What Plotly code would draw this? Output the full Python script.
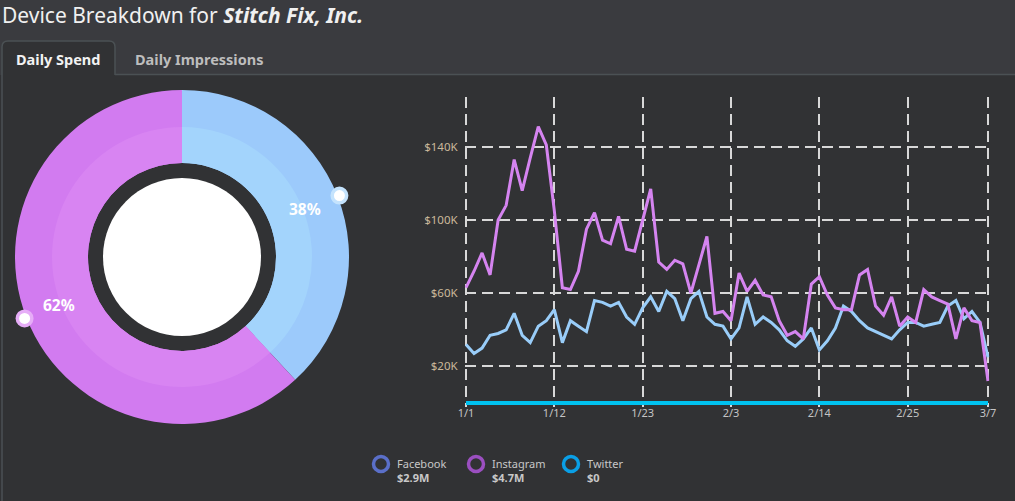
import numpy as np
import pandas as pd
import plotly.graph_objects as go

# ---------------- data ----------------
dates = pd.date_range("2018-01-01", "2018-03-07", freq="D")

# daily spend, thousands of USD
facebook = [32, 27, 30, 37, 38, 40, 49, 37, 33, 42, 45, 51,
            33, 45, 42, 39, 56, 55, 53, 55, 47, 43, 52, 58,
            50, 61, 57, 45, 57, 61, 47, 43, 42, 35, 41, 58,
            43, 47, 44, 40, 34, 31, 35, 41, 29, 34, 41, 53,
            50, 45, 41, 39, 37, 35, 40, 44, 44, 42, 43, 44,
            53, 56, 46, 50, 44, 25]
instagram = [63, 72, 82, 70, 100, 108, 133, 116, 134, 151, 141, 105,
             63, 62, 72, 95, 104, 89, 87, 102, 84, 83, 100, 117,
             77, 73, 78, 76, 60, 75, 91, 49, 50, 45, 71, 61,
             67, 59, 58, 45, 37, 39, 35, 65, 69, 59, 52, 51,
             51, 70, 73, 53, 48, 58, 42, 47, 44, 62, 58, 56,
             54, 35, 52, 45, 44, 12]
twitter = [0, 0, 0, 0, 0, 0, 0, 0, 0, 0, 0, 0,
           0, 0, 0, 0, 0, 0, 0, 0, 0, 0, 0, 0,
           0, 0, 0, 0, 0, 0, 0, 0, 0, 0, 0, 0,
           0, 0, 0, 0, 0, 0, 0, 0, 0, 0, 0, 0,
           0, 0, 0, 0, 0, 0, 0, 0, 0, 0, 0, 0,
           0, 0, 0, 0, 0, 0]

names = ["Facebook", "Instagram", "Twitter"]
y_ticks = [20, 60, 100, 140]
x_tick_idx = [0, 11, 22, 33, 44, 55, 65]

# ---------------- styling ----------------
W, H = 1015, 501
HEADER_BG = "#3a3b3f"
PANEL_BG = "#313234"
BORDER = "#4b5154"
FONT = "Noto Sans"

line_colors = ["#99cdf9", "#d584f0", "#00c2f0"]
legend_colors = ["#5a6fc8", "#9b4fc0", "#0a9fe6"]
ring_outer = ["#9ccafb", "#d27bf0"]
ring_inner = ["#a3d4fc", "#d884f2"]
halo_colors = ["#c4e3fd", "#e6adf7"]


def px(x):
    return x / W


def py(y):
    return 1 - y / H


totals = [sum(facebook), sum(instagram), sum(twitter)]
total_labels = ["$%.1fM" % (t / 1000.0) if t > 0 else "$0" for t in totals]

fig = go.Figure()

# ---------------- donut ----------------
cx, cy, R = 182, 257, 167
r_band, r_hole, r_white = 130, 94, 79

fig.add_trace(go.Pie(
    values=totals[:2], labels=names[:2], sort=False, direction="clockwise",
    rotation=0, hole=r_hole / R, textinfo="none", hoverinfo="skip",
    showlegend=False, marker=dict(colors=ring_outer, line=dict(width=0)),
    domain=dict(x=[px(cx - R), px(cx + R)], y=[py(cy + R), py(cy - R)]),
))
fig.add_trace(go.Pie(
    values=totals[:2], labels=names[:2], sort=False, direction="clockwise",
    rotation=0, hole=r_hole / r_band, textinfo="none", hoverinfo="skip",
    showlegend=False, marker=dict(colors=ring_inner, line=dict(width=0)),
    domain=dict(x=[px(cx - r_band), px(cx + r_band)],
                y=[py(cy + r_band), py(cy - r_band)]),
))

shapes = []
annotations = []

# panel + tabs
shapes.append(dict(type="rect", xref="paper", yref="paper", layer="below",
                   x0=0, x1=1, y0=0, y1=py(75), fillcolor=PANEL_BG,
                   line=dict(width=0)))
tab_path = "M {a},{b} L {a},{c} Q {a},{d} {e},{d} L {f},{d} Q {g},{d} {g},{c} L {g},{b}".format(
    a=px(2), b=py(75), c=py(47), d=py(41), e=px(8), f=px(109), g=px(115))
shapes.append(dict(type="path", xref="paper", yref="paper", layer="below",
                   path=tab_path + " Z", fillcolor=PANEL_BG, line=dict(width=0)))
shapes.append(dict(type="path", xref="paper", yref="paper", layer="below",
                   path=tab_path, line=dict(color=BORDER, width=1.5)))
shapes.append(dict(type="line", xref="paper", yref="paper", layer="below",
                   x0=px(115), x1=1, y0=py(74.5), y1=py(74.5),
                   line=dict(color=BORDER, width=1.5)))
shapes.append(dict(type="line", xref="paper", yref="paper", layer="below",
                   x0=px(2), x1=px(2), y0=0, y1=py(75),
                   line=dict(color=BORDER, width=1.5)))

# white centre
shapes.append(dict(type="circle", xref="paper", yref="paper", layer="below",
                   x0=px(cx - r_white), x1=px(cx + r_white),
                   y0=py(cy + r_white), y1=py(cy - r_white),
                   fillcolor="#ffffff", line=dict(width=0)))

# markers + percentage labels at segment mid-angles
share = np.array(totals[:2], dtype=float) / sum(totals[:2])
start = 0.0
for i, s in enumerate(share):
    mid = (start + s / 2) * 2 * np.pi
    start += s
    sx, sy = np.sin(mid), -np.cos(mid)
    mx, my = cx + 169 * sx, cy + 169 * sy
    for rr, col in [(9, halo_colors[i]), (5.5, "#ffffff")]:
        shapes.append(dict(type="circle", xref="paper", yref="paper", layer="above",
                           x0=px(mx - rr), x1=px(mx + rr), y0=py(my + rr), y1=py(my - rr),
                           fillcolor=col, line=dict(width=0)))
    lx, ly = cx + 132 * sx, cy + 132 * sy
    annotations.append(dict(xref="paper", yref="paper", x=px(lx), y=py(ly),
                            text="<b>%d%%</b>" % round(s * 100), showarrow=False,
                            font=dict(family=FONT, size=15.5, color="#ffffff"),
                            xanchor="center", yanchor="middle"))

# ---------------- lines ----------------
for vals, nm, col, w in [(facebook, names[0], line_colors[0], 3),
                         (instagram, names[1], line_colors[1], 3),
                         (twitter, names[2], line_colors[2], 4)]:
    fig.add_trace(go.Scatter(x=dates, y=vals, name=nm, mode="lines",
                             line=dict(color=col, width=w), showlegend=False,
                             hoverinfo="skip"))

ppd = (988 - 466) / 65.0          # pixels per day
pad_days = 4 / 24.0
ppk = (366.3 - 146.7) / 120.0     # pixels per thousand
pad_k = 2.0
x_lo, x_hi = 466 - ppd * pad_days, 988 + ppd * pad_days
y_top_val = (403 - 97) / ppk

tickvals = [dates[i] for i in x_tick_idx]
ticktext = ["%d/%d" % (d.month, d.day) for d in tickvals]

fig.update_layout(
    xaxis=dict(domain=[px(x_lo), px(x_hi)], type="date",
               range=[dates[0] - pd.Timedelta(hours=4), dates[-1] + pd.Timedelta(hours=4)],
               tickvals=tickvals, ticktext=ticktext, showgrid=True,
               gridcolor="#d8d8d8", gridwidth=2, griddash="11px,6px",
               zeroline=False, showline=False, ticks="", automargin=False,
               tickfont=dict(family=FONT, size=11, color="#c4c4c4"),
               ticklabelstandoff=-2, fixedrange=True),
    yaxis=dict(domain=[py(403 + ppk * pad_k), py(97)], range=[-pad_k, y_top_val],
               tickvals=y_ticks, ticktext=["$%dK" % v for v in y_ticks],
               showgrid=True, gridcolor="#d8d8d8", gridwidth=2, griddash="11px,6px",
               zeroline=False, showline=False, ticks="", automargin=False,
               tickfont=dict(family=FONT, size=11.5, color="#cbb99b"),
               ticklabelstandoff=6, fixedrange=True),
)

# ---------------- legend ----------------
leg_x = [381, 476, 571]
for i in range(3):
    shapes.append(dict(type="circle", xref="paper", yref="paper", layer="above",
                       x0=px(leg_x[i] - 7.5), x1=px(leg_x[i] + 7.5),
                       y0=py(464 + 7.5), y1=py(464 - 7.5),
                       fillcolor="rgba(0,0,0,0)", line=dict(color=legend_colors[i], width=3.5)))
    annotations.append(dict(xref="paper", yref="paper", x=px(leg_x[i] + 14), y=py(470.5),
                            text="%s<br><b>%s</b>" % (names[i], total_labels[i]),
                            showarrow=False, xanchor="left", yanchor="middle", align="left",
                            font=dict(family=FONT, size=11, color="#c8c8c8")))

# ---------------- title + tabs text ----------------
annotations.append(dict(xref="paper", yref="paper", x=0, y=py(15), xanchor="left",
                        yanchor="middle", showarrow=False,
                        text="Device Breakdown for <b><i>Stitch Fix, Inc.</i></b>",
                        font=dict(family=FONT, size=21, color="#f0f0f0")))
annotations.append(dict(xref="paper", yref="paper", x=px(58), y=py(59), xanchor="center",
                        yanchor="middle", showarrow=False, text="<b>Daily Spend</b>",
                        font=dict(family=FONT, size=14.5, color="#f2f2f2")))
annotations.append(dict(xref="paper", yref="paper", x=px(199), y=py(59), xanchor="center",
                        yanchor="middle", showarrow=False, text="<b>Daily Impressions</b>",
                        font=dict(family=FONT, size=14.5, color="#bdbdbd")))

fig.update_layout(
    width=W, height=H, autosize=False,
    margin=dict(l=0, r=0, t=0, b=0, pad=0, autoexpand=False),
    paper_bgcolor=HEADER_BG, plot_bgcolor="rgba(0,0,0,0)",
    shapes=shapes, annotations=annotations, showlegend=False,
    font=dict(family=FONT),
)

fig.write_html(
    "out.html",
    config={"responsive": False, "displayModeBar": False},
    post_script=("document.documentElement.style.margin='0';"
                 "document.body.style.margin='0';"
                 "document.body.style.overflow='hidden';"),
)
